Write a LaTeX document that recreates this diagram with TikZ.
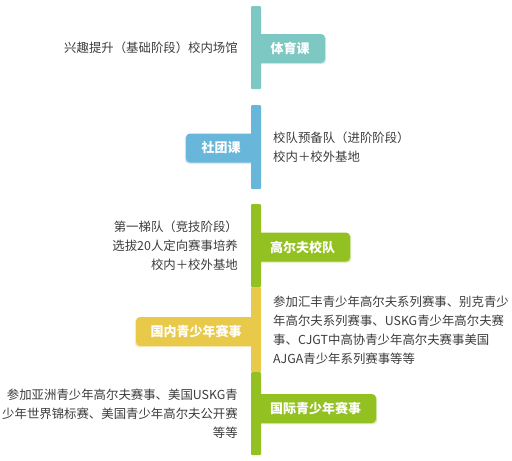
\documentclass[tikz,border=0pt]{standalone}
\usepackage{fontspec}
\setmainfont{Noto Sans CJK SC}
\usepackage{xcolor}
\usepackage{tikz}
\usetikzlibrary{positioning,shadows}

\definecolor{tealbar}{HTML}{7EC8C3}
\definecolor{bluebar}{HTML}{68B6DA}
\definecolor{greenbar}{HTML}{92C121}
\definecolor{yellowbar}{HTML}{E9C94A}
\definecolor{desctext}{HTML}{3C3C3C}

\tikzset{
    flag/.style={fill=#1, text=white, font=\fontsize{13}{13}\selectfont\bfseries,
        minimum height=29pt, inner sep=0pt, rounded corners=4pt},
    rflag/.style={flag=#1, drop shadow={shadow xshift=1.2pt, shadow yshift=-1.2pt, fill=#1!35, opacity=1}},
    lflag/.style={flag=#1, drop shadow={shadow xshift=-1.2pt, shadow yshift=-1.2pt, fill=#1!35, opacity=1}},
    desc/.style={text=desctext, font=\fontsize{12.4}{19}\selectfont, inner sep=0pt}
}

\begin{document}
\begin{tikzpicture}[x=1pt,y=-1pt]
    \useasboundingbox (0,0) rectangle (512,461); % Page size of the reference

    \coordinate (lefttext) at (238,0); % Right edge of the texts left of the bar
    \coordinate (righttext) at (273,0); % Left edge of the texts right of the bar

    % Flags, their inner ends are hidden under the bar
    \node[rflag=tealbar, minimum width=70pt] (sport) at (290,48.5) {体育课};
    \node[lflag=bluebar, minimum width=70pt] (club) at (221,148) {社团课};
    \node[rflag=greenbar, minimum width=95pt] (team) at (302.5,247) {高尔夫校队};
    \node[lflag=yellowbar, minimum width=120pt] (home) at (196,331.5) {国内青少年赛事};
    \node[rflag=greenbar, minimum width=121pt] (world) at (315.5,408.5) {国际青少年赛事};

    % The bar, one piece for each colour
    \foreach \ya/\yb/\c in {6/89/tealbar,105/189/bluebar,204/287/greenbar,287/372/yellowbar,372/455/greenbar}{
        \fill[\c, rounded corners=1pt] (251,\ya) rectangle (261,\yb);
    }

    % Texts beside the flags
    \node[desc, anchor=east] (sportinfo) at (lefttext |- 0,48) {兴趣提升（基础阶段）校内场馆};
    \node[desc, anchor=west, align=left] (clubinfo) at (righttext |- 0,147.5) {校队预备队（进阶阶段）\\校内＋校外基地};
    \node[desc, anchor=east, align=right] (teaminfo) at (lefttext |- 0,246) {第一梯队（竞技阶段）\\选拔20人定向赛事培养\\校内＋校外基地};
    \node[desc, anchor=west, align=left] (homeinfo) at (righttext |- 0,330.5) {参加汇丰青少年高尔夫系列赛事、别克青少\\年高尔夫系列赛事、USKG青少年高尔夫赛\\事、CJGT中高协青少年高尔夫赛事美国\\AJGA青少年系列赛事等等};
    \node[desc, anchor=east, align=right] (worldinfo) at (lefttext |- 0,414) {参加亚洲青少年高尔夫赛事、美国USKG青\\少年世界锦标赛、美国青少年高尔夫公开赛\\等等};
\end{tikzpicture}
\end{document}
